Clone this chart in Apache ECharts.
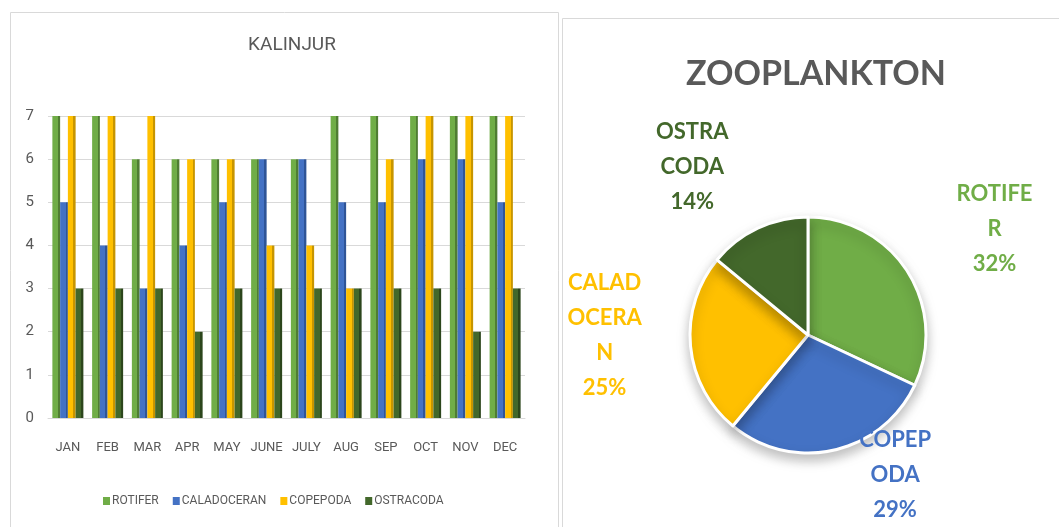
<!DOCTYPE html>
<html>
<head>
<meta charset="utf-8">
<script src="https://cdn.jsdelivr.net/npm/echarts@6/dist/echarts.min.js"></script>
<style>
	html, body { margin: 0; padding: 0; background: #fff; }
	#chart { width: 1059px; height: 527px; }
</style>
</head>
<body>
<div id="chart"></div>
<script>
	// bar chart data (KALINJUR)
	var months = ['JAN', 'FEB', 'MAR', 'APR', 'MAY', 'JUNE', 'JULY', 'AUG', 'SEP', 'OCT', 'NOV', 'DEC'];
	var rotifer = [7, 7, 6, 6, 6, 6, 6, 7, 7, 7, 7, 7];
	var caladoceran = [5, 4, 3, 4, 5, 6, 6, 5, 5, 6, 6, 5];
	var copepoda = [7, 7, 7, 6, 6, 4, 4, 3, 6, 7, 7, 7];
	var ostracoda = [3, 3, 3, 2, 3, 3, 3, 3, 3, 3, 2, 3];

	// pie data (ZOOPLANKTON)
	var pieNames = ['ROTIFER', 'COPEPODA', 'CALADOCERAN', 'OSTRACODA'];
	var pieValues = [32, 29, 25, 14];
	var pieColors = ['#70ad47', '#4472c4', '#ffc000', '#43682b'];
	// label nudges, pixels (label text centred)
	var labelShift = [[65, -32], [52, 5], [-61, -13], [-52, -43]];

	var narrow = '"Liberation Sans Narrow", "Roboto", sans-serif';

	var chart = echarts.init(document.getElementById('chart'));

	function barSeries(name, data, base, side) {
		return {
			name: name,
			type: 'bar',
			xAxisIndex: 0,
			yAxisIndex: 0,
			barGap: '0%',
			barCategoryGap: '22%',
			itemStyle: {
				color: new echarts.graphic.LinearGradient(0, 0, 1, 0, [
					{ offset: 0, color: base },
					{ offset: 0.72, color: base },
					{ offset: 0.72, color: side },
					{ offset: 1, color: side }
				])
			},
			data: data
		};
	}

	var pieData = pieNames.map(function(n, i) {
		return {
			name: n,
			value: pieValues[i],
			itemStyle: { color: pieColors[i] },
			label: { color: pieColors[i] }
		};
	});

	var option = {
		animation: false,
		graphic: [
			{ type: 'rect', shape: { x: 10.5, y: 12.5, width: 548, height: 530 }, style: { fill: 'none', stroke: '#d9d9d9', lineWidth: 1 } },
			{ type: 'rect', shape: { x: 562.5, y: 18.5, width: 500, height: 530 }, style: { fill: 'none', stroke: '#d9d9d9', lineWidth: 1 } }
		],
		title: [{
			text: 'KALINJUR',
			left: 287,
			textAlign: 'center',
			top: 31,
			textStyle: { color: '#595959', fontFamily: narrow, fontSize: 19, fontWeight: 'normal' }
		}, {
			text: 'ZOOPLANKTON',
			left: 811,
			textAlign: 'center',
			top: 52,
			textStyle: { color: '#595959', fontFamily: 'Lato, "Open Sans", sans-serif', fontSize: 34, fontWeight: 'bold' }
		}],
		legend: {
			data: [
				{ name: 'ROTIFER', itemStyle: { color: '#70ad47' } },
				{ name: 'CALADOCERAN', itemStyle: { color: '#4472c4' } },
				{ name: 'COPEPODA', itemStyle: { color: '#ffc000' } },
				{ name: 'OSTRACODA', itemStyle: { color: '#43682b' } }
			],
			left: 98,
			top: 490,
			itemWidth: 7,
			itemHeight: 8,
			itemGap: 14,
			icon: 'rect',
			textStyle: { color: '#595959', fontFamily: narrow, fontSize: 12, padding: [0, 0, 0, -3] }
		},
		grid: {
			left: 48,
			right: 534,
			top: 116,
			bottom: 109
		},
		xAxis: [{
			type: 'category',
			data: months,
			axisLine: { show: true, lineStyle: { color: '#d9d9d9' } },
			axisTick: { show: false },
			axisLabel: { interval: 0, color: '#595959', fontFamily: narrow, fontSize: 13, margin: 23 }
		}],
		yAxis: [{
			type: 'value',
			min: 0,
			max: 7,
			interval: 1,
			axisLine: { show: false },
			axisTick: { show: false },
			axisLabel: { color: '#595959', fontFamily: narrow, fontSize: 15, margin: 14 },
			splitLine: { lineStyle: { color: '#d9d9d9' } }
		}],
		series: [
			barSeries('ROTIFER', rotifer, '#70ad47', '#4f7d32'),
			barSeries('CALADOCERAN', caladoceran, '#4472c4', '#2f5597'),
			barSeries('COPEPODA', copepoda, '#ffc000', '#c79500'),
			barSeries('OSTRACODA', ostracoda, '#43682b', '#2c461c'),
			{
				name: 'ZOOPLANKTON',
				type: 'pie',
				center: [808, 335],
				radius: [0, 118],
				startAngle: 90,
				clockwise: true,
				avoidLabelOverlap: false,
				itemStyle: { borderColor: '#fff', borderWidth: 3, shadowBlur: 12, shadowColor: 'rgba(0,0,0,0.25)', shadowOffsetY: 6 },
				label: {
					show: true,
					position: 'outside',
					formatter: '{b}\n{d}%',
					fontFamily: 'Lato, "Open Sans", sans-serif',
					fontWeight: 'bold',
					fontSize: 22,
					lineHeight: 35,
					width: 82,
					overflow: 'breakAll',
					align: 'center'
				},
				labelLine: { show: false, length: 20, length2: 0 },
				labelLayout: function(params) {
					var s = labelShift[params.dataIndex];
					return { dx: s[0], dy: s[1], align: 'center' };
				},
				data: pieData
			}
		]
	};

	chart.setOption(option);
</script>
</body>
</html>
